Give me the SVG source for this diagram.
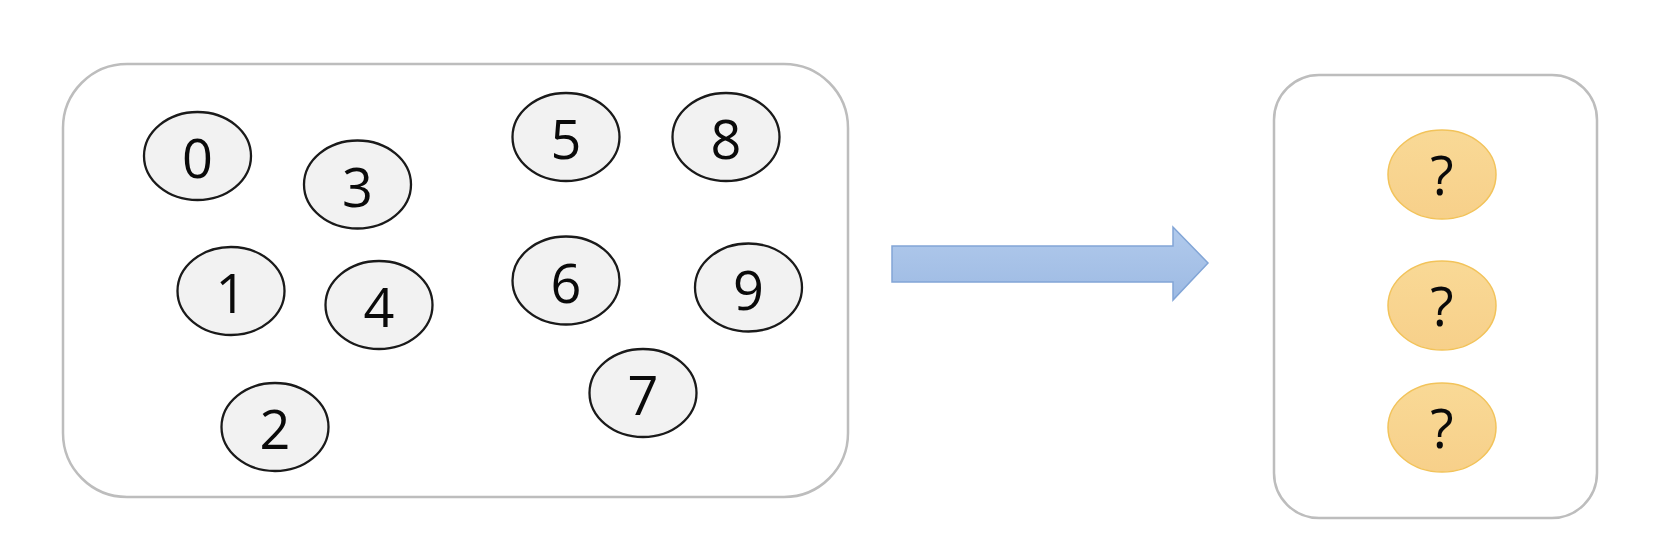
<svg xmlns="http://www.w3.org/2000/svg" width="1676" height="560" viewBox="0 0 1676 560">
<style>
.box{fill:#ffffff;stroke:#BDBDBD;stroke-width:2.5}
.num ellipse{fill:#F2F2F2;stroke:#1A1A1A;stroke-width:2.3}
.q ellipse{fill:url(#og);stroke:#F2C35A;stroke-width:1.5}
text{font-family:"Open Sans","Liberation Sans",Arial,sans-serif;font-size:54px;fill:#0A0A0A;text-anchor:middle}
</style>
<defs>
<linearGradient id="og" x1="0" y1="0" x2="0" y2="1">
<stop offset="0" stop-color="#F9D996"/>
<stop offset="1" stop-color="#F7D08A"/>
</linearGradient>
<linearGradient id="bg" x1="0" y1="0" x2="0" y2="1">
<stop offset="0" stop-color="#B1CAEC"/>
<stop offset="1" stop-color="#9DBAE3"/>
</linearGradient>
</defs>
<rect width="1676" height="560" fill="#ffffff"/>
<g id="left-box"><rect class="box" x="63" y="64" width="785" height="433" rx="64" ry="64"/></g>
<g id="right-box"><rect class="box" x="1274" y="75" width="323" height="443" rx="45" ry="45"/></g>
<g id="n0" class="num"><ellipse cx="197.5" cy="156" rx="53.5" ry="44"/><text x="197.5" y="178">0</text></g>
<g id="n3" class="num"><ellipse cx="357.5" cy="184.5" rx="53.5" ry="44"/><text x="357.5" y="207">3</text></g>
<g id="n1" class="num"><ellipse cx="231" cy="291" rx="53.5" ry="44"/><text x="231" y="313">1</text></g>
<g id="n4" class="num"><ellipse cx="379" cy="305" rx="53.5" ry="44"/><text x="379" y="327">4</text></g>
<g id="n2" class="num"><ellipse cx="275" cy="427" rx="53.5" ry="44"/><text x="275" y="449">2</text></g>
<g id="n5" class="num"><ellipse cx="566" cy="137" rx="53.5" ry="44"/><text x="566" y="159">5</text></g>
<g id="n8" class="num"><ellipse cx="726" cy="137" rx="53.5" ry="44"/><text x="726" y="159">8</text></g>
<g id="n6" class="num"><ellipse cx="566" cy="280.5" rx="53.5" ry="44"/><text x="566" y="302.5">6</text></g>
<g id="n9" class="num"><ellipse cx="748.5" cy="287.5" rx="53.5" ry="44"/><text x="748.5" y="309.5">9</text></g>
<g id="n7" class="num"><ellipse cx="643" cy="393" rx="53.5" ry="44"/><text x="643" y="415">7</text></g>
<g id="connectors">
<polygon points="892,246 1173,246 1173,227 1208,263 1173,300 1173,282 892,282" fill="url(#bg)" stroke="#82A5D6" stroke-width="1.5"/>
</g>
<g id="q1" class="q"><ellipse cx="1442" cy="174.5" rx="54" ry="44.5"/><text x="1442" y="195">?</text></g>
<g id="q2" class="q"><ellipse cx="1442" cy="305.5" rx="54" ry="44.5"/><text x="1442" y="326">?</text></g>
<g id="q3" class="q"><ellipse cx="1442" cy="427.5" rx="54" ry="44.5"/><text x="1442" y="448">?</text></g>
</svg>
